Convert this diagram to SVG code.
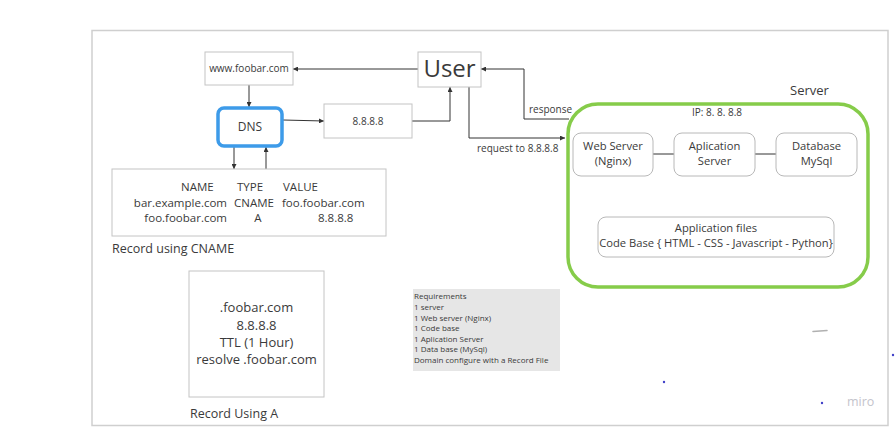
<svg xmlns="http://www.w3.org/2000/svg" width="896" height="427" viewBox="0 0 896 427">
<defs>
<style>
text{font-family:"Open Sans","Noto Sans","Liberation Sans",sans-serif;fill:#3a3a3a}
.box{fill:#fff;stroke:#c4c4c4;stroke-width:1}
.rbox{fill:#fff;stroke:#b8b8b8;stroke-width:1}
.ln{fill:none;stroke:#333;stroke-width:1}
.c{text-anchor:middle}
.sv{font-size:11.2px;text-anchor:middle}
</style>
<marker id="ah" viewBox="0 0 8 8" refX="8" refY="4" markerWidth="5" markerHeight="5" orient="auto" markerUnits="userSpaceOnUse">
<path d="M0,0 L8,4 L0,8 z" fill="#333"/>
</marker>
</defs>
<rect width="896" height="427" fill="#fff"/>
<rect x="92" y="30.5" width="796" height="395" fill="none" stroke="#cfcfcf" stroke-width="1.5"/>

<g id="connectors">
<path class="ln" d="M418,69 H293" marker-end="url(#ah)"/>
<path class="ln" d="M249,85 V107" marker-end="url(#ah)"/>
<path class="ln" d="M234,147 V169" marker-end="url(#ah)"/>
<path class="ln" d="M266,169 V147" marker-end="url(#ah)"/>
<path class="ln" d="M283,120 L324,121" marker-end="url(#ah)"/>
<path class="ln" d="M412,121 H450 V87" marker-end="url(#ah)"/>
<path class="ln" d="M469,87 V138 H565" marker-end="url(#ah)"/>
<path class="ln" d="M569,119 H524 V69 H481" marker-end="url(#ah)"/>
<path class="ln" d="M653,154 H674 M755,154 H776"/>
<text x="477" y="152" font-size="10">request to 8.8.8.8</text>
<text x="529" y="113" font-size="10">response</text>
</g>

<g id="www">
<rect class="box" x="205" y="52" width="88" height="33"/>
<text class="c" x="249" y="72" font-size="10">www.foobar.com</text>
</g>
<g id="user">
<rect class="box" x="418" y="52" width="63" height="35"/>
<text class="c" x="449.5" y="77" font-size="24">User</text>
</g>
<g id="dns">
<rect x="218" y="108" width="64" height="38" rx="6" fill="#fff" stroke="#3d9be9" stroke-width="3.5"/>
<text class="c" x="250" y="131" font-size="12">DNS</text>
</g>
<g id="ip">
<rect class="box" x="324" y="104" width="88" height="34"/>
<text class="c" x="368" y="125" font-size="10">8.8.8.8</text>
</g>
<g id="cname">
<rect class="box" x="112" y="169" width="274" height="67"/>
<g font-size="11.5">
<text x="181" y="191">NAME</text>
<text x="237" y="191">TYPE</text>
<text x="283" y="191">VALUE</text>
<text x="227" y="207" text-anchor="end">bar.example.com</text>
<text x="234" y="207">CNAME</text>
<text x="282" y="207">foo.foobar.com</text>
<text x="227" y="222" text-anchor="end">foo.foobar.com</text>
<text class="c" x="258" y="222">A</text>
<text x="318" y="222">8.8.8.8</text>
</g>
<text x="112" y="253" font-size="12.5">Record using CNAME</text>
</g>
<g id="recordA">
<rect class="box" x="189" y="271" width="135" height="126"/>
<g font-size="13">
<text class="c" x="256.5" y="312">.foobar.com</text>
<text class="c" x="256.5" y="330">8.8.8.8</text>
<text class="c" x="256.5" y="347">TTL (1 Hour)</text>
<text class="c" x="256.5" y="364">resolve .foobar.com</text>
</g>
<text x="190" y="418" font-size="12.5">Record Using A</text>
</g>
<g id="requirements">
<rect x="413" y="289" width="147" height="82" fill="#e6e6e6"/>
<g font-size="8">
<text x="414" y="299">Requirements</text>
<text x="414" y="310">1 server</text>
<text x="414" y="320.5">1 Web server (Nginx)</text>
<text x="414" y="331">1 Code base</text>
<text x="414" y="341.5">1 Aplication Server</text>
<text x="414" y="352">1 Data base (MySql)</text>
<text x="414" y="362.5">Domain configure with a Record File</text>
</g>
</g>
<g id="server">
<rect x="568" y="104" width="300" height="183" rx="30" fill="none" stroke="#86cc4a" stroke-width="3.5"/>
<text x="790" y="95" font-size="13">Server</text>
<text class="c" x="717" y="116" font-size="10">IP: 8. 8. 8.8</text>
</g>
<g id="webserver">
<rect class="rbox" x="573" y="133" width="80" height="43" rx="8"/>
<text class="sv" x="613" y="150">Web Server</text>
<text class="sv" x="613" y="165">(Nginx)</text>
</g>
<g id="appserver">
<rect class="rbox" x="674" y="133" width="81" height="43" rx="8"/>
<text class="sv" x="714.5" y="150">Aplication</text>
<text class="sv" x="714.5" y="165">Server</text>
</g>
<g id="database">
<rect class="rbox" x="776" y="133" width="81" height="43" rx="8"/>
<text class="sv" x="816.5" y="150">Database</text>
<text class="sv" x="816.5" y="165">MySql</text>
</g>
<g id="appfiles">
<rect class="rbox" x="598" y="217" width="236" height="40" rx="8"/>
<text class="sv" x="716" y="232">Application files</text>
<text class="sv" x="716" y="247">Code Base { HTML - CSS - Javascript - Python}</text>
</g>
<g id="decor">
<path d="M813,331.5 L827,330.5" fill="none" stroke="#b0b0b0" stroke-width="1.5" stroke-linecap="round"/>
<circle cx="664" cy="382" r="1.2" fill="#4040c8"/>
<circle cx="822" cy="403" r="1.2" fill="#4040c8"/>
<circle cx="893" cy="355" r="1.2" fill="#4040c8"/>
<text x="847" y="406" font-size="12.5" style="fill:#c4c4cc">miro</text>
</g>
</svg>
